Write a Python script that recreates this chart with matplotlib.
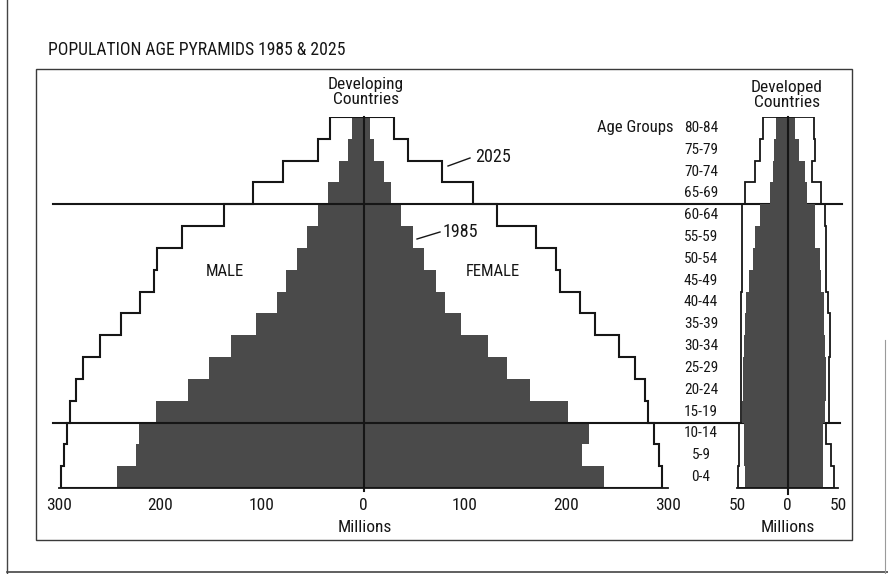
import matplotlib
matplotlib.use('Agg')
import matplotlib.pyplot as plt
from matplotlib.transforms import blended_transform_factory
from matplotlib.patches import Rectangle
from matplotlib.lines import Line2D
import numpy as np
import logging
logging.getLogger('matplotlib.font_manager').setLevel(logging.ERROR)

# ---------------- data (ordered bottom -> top) ----------------
age_groups = ['0-4', '5-9', '10-14', '15-19', '20-24', '25-29', '30-34', '35-39',
              '40-44', '45-49', '50-54', '55-59', '60-64', '65-69', '70-74', '75-79', '80-84']

# Developing countries (millions)
developing_male_1985 = [243, 224, 221, 204, 173, 152, 131, 106, 85, 76, 66, 56, 45, 35, 24, 15, 11]
developing_female_1985 = [237, 215, 222, 201, 164, 141, 123, 96, 80, 71, 60, 49, 37, 27, 20, 10, 6]
developing_male_2025 = [298, 295, 292, 289, 283, 276, 260, 239, 220, 206, 203, 179, 137, 109, 79, 45, 33]
developing_female_2025 = [294, 291, 286, 280, 277, 267, 252, 228, 213, 194, 190, 170, 132, 108, 77, 44, 30]

# Developed countries (millions)
developed_male_1985 = [42, 43, 43, 45, 44, 44, 43, 42, 41, 38, 34, 32, 27, 17, 14, 13, 11]
developed_female_1985 = [35, 35, 35, 37, 38, 38, 37, 36, 36, 33, 32, 27, 27, 19, 17, 11, 7]
developed_male_2025 = [49, 48, 48, 46, 46, 46, 46, 46, 46, 45, 45, 45, 45, 42, 32, 27, 24]
developed_female_2025 = [46, 43, 38, 41, 41, 41, 42, 42, 40, 38, 38, 38, 37, 33, 24, 27, 26]

dev_ticks = [-300, -200, -100, 0, 100, 200, 300]
dev_tick_labels = ['300', '200', '100', '0', '100', '200', '300']
ed_ticks = [-50, 0, 50]
ed_tick_labels = ['50', '0', '50']

title = 'POPULATION AGE PYRAMIDS 1985 & 2025'

# ---------------- style ----------------
W, H = 888, 574
FONT = ['Roboto Condensed', 'Liberation Sans Narrow', 'Liberation Sans', 'DejaVu Sans']
plt.rcParams['font.family'] = FONT
INK = '#161616'
FILL = '#4a4a4a'

fig = plt.figure(figsize=(W / 100, H / 100), dpi=100)
fig.patch.set_facecolor('white')


def fx(px):
    return px / W


def fy(py):
    return 1 - py / H


TOP_PX, BOT_PX = 117, 488


def make_axes(x_left_px, x_right_px, xlim):
    ax = fig.add_axes([fx(x_left_px), fy(BOT_PX), (x_right_px - x_left_px) / W,
                       (BOT_PX - TOP_PX) / H])
    ax.set_xlim(*xlim)
    ax.set_ylim(-0.5, len(age_groups) - 0.5)
    ax.set_facecolor('none')
    for s in ['top', 'left', 'right']:
        ax.spines[s].set_visible(False)
    ax.spines['bottom'].set_bounds(*xlim)
    ax.spines['bottom'].set_linewidth(1.3)
    ax.spines['bottom'].set_color(INK)
    ax.set_yticks([])
    return ax


y = np.arange(len(age_groups))
edges = np.arange(len(age_groups) + 1) - 0.5

TICK_FS = 12.5

# ---- Developing countries ----
axL = make_axes(59, 668, (-300, 300))
axL.barh(y, -np.array(developing_male_1985), height=1.0, color=FILL, linewidth=0)
axL.barh(y, developing_female_1985, height=1.0, color=FILL, linewidth=0)
axL.stairs(-np.array(developing_male_2025), edges, orientation='horizontal',
           baseline=0, fill=False, color=INK, linewidth=1.5)
axL.stairs(developing_female_2025, edges, orientation='horizontal',
           baseline=0, fill=False, color=INK, linewidth=1.5)
axL.axvline(0, color=INK, linewidth=1.5, ymin=-0.008, ymax=1, clip_on=False)
axL.set_xticks(dev_ticks)
axL.set_xticklabels(dev_tick_labels, fontsize=TICK_FS, color=INK)
axL.tick_params(axis='x', length=0, pad=7)
axL.set_xticks([-300, 300], minor=True)
axL.tick_params(axis='x', which='minor', length=6, width=1.3, color=INK)

# ---- Developed countries ----
axR = make_axes(737, 838, (-50, 50))
axR.barh(y, -np.array(developed_male_1985), height=1.0, color=FILL, linewidth=0)
axR.barh(y, developed_female_1985, height=1.0, color=FILL, linewidth=0)
axR.stairs(-np.array(developed_male_2025), edges, orientation='horizontal',
           baseline=0, fill=False, color=INK, linewidth=1.3)
axR.stairs(developed_female_2025, edges, orientation='horizontal',
           baseline=0, fill=False, color=INK, linewidth=1.3)
axR.axvline(0, color=INK, linewidth=1.5, ymin=-0.015, ymax=1, clip_on=False)
axR.set_xticks(ed_ticks)
axR.set_xticklabels(ed_tick_labels, fontsize=TICK_FS, color=INK)
axR.tick_params(axis='x', length=0, pad=7)
axR.set_xticks([-50, 50], minor=True)
axR.tick_params(axis='x', which='minor', length=6, width=1.3, color=INK)

# ---- horizontal divider lines across both pyramids ----
trL = blended_transform_factory(fig.transFigure, axL.transData)
for yb, xr in [(12.5, 842), (2.5, 840)]:
    axL.add_line(Line2D([fx(53), fx(xr)], [yb, yb], transform=trL, color=INK,
                        linewidth=1.5, clip_on=False))

# ---- age group labels ----
for i, lab in enumerate(age_groups):
    axL.text(fx(701), i, lab, transform=trL, ha='center', va='center',
             fontsize=11, color=INK)
axL.text(fx(635), len(age_groups) - 1, 'Age Groups', transform=trL, ha='center',
         va='center', fontsize=12, color=INK)

# ---- other texts ----
fig.text(fx(48), fy(50), title, ha='left', va='center', fontsize=12.7, color=INK)
fig.text(fx(366), fy(92), 'Developing\nCountries', ha='center', va='center',
         fontsize=12.5, color=INK, linespacing=1.0)
fig.text(fx(787), fy(95), 'Developed\nCountries', ha='center', va='center',
         fontsize=12.5, color=INK, linespacing=1.0)
fig.text(fx(365), fy(528), 'Millions', ha='center', va='center', fontsize=12.5, color=INK)
fig.text(fx(788), fy(528), 'Millions', ha='center', va='center', fontsize=12.5, color=INK)
fig.text(fx(225), fy(272), 'MALE', ha='center', va='center', fontsize=12, color=INK)
fig.text(fx(493), fy(272), 'FEMALE', ha='center', va='center', fontsize=12, color=INK)
fig.text(fx(475), fy(157), '2025', ha='left', va='center', fontsize=13, color=INK)
fig.text(fx(443), fy(232), '1985', ha='left', va='center', fontsize=13, color=INK)
fig.add_artist(Line2D([fx(448), fx(470)], [fy(166), fy(158)], color=INK, linewidth=1.0))
fig.add_artist(Line2D([fx(417), fx(440)], [fy(239), fy(232)], color=INK, linewidth=1.0))

# ---- frame and page edges ----
fig.add_artist(Rectangle((fx(36), fy(540)), fx(852) - fx(36), fy(69) - fy(540),
                         transform=fig.transFigure, fill=False, edgecolor='#3a3a3a',
                         linewidth=1.0))
fig.add_artist(Line2D([fx(7), fx(7)], [0, 1], color='#444444', linewidth=1.0))
fig.add_artist(Line2D([fx(7), fx(888)], [fy(572), fy(572)], color='#444444', linewidth=1.2))
fig.add_artist(Line2D([fx(885), fx(885)], [fy(340), 0], color='#9a9a9a', linewidth=0.8))

fig.savefig('out.png', dpi=100, facecolor='white')
